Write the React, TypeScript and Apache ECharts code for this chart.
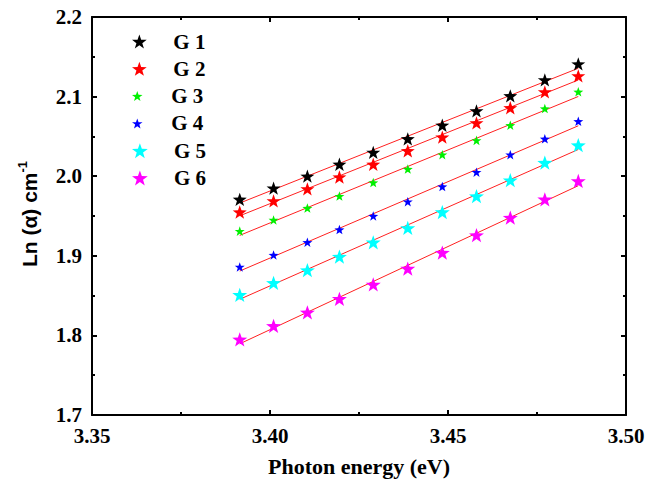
import React, { useEffect, useRef } from "react";
import * as echarts from "echarts";

const energies = [3.3915, 3.401, 3.4105, 3.4195, 3.429, 3.4387, 3.4484, 3.458, 3.4675, 3.4772, 3.4866];
const g1 = [1.971, 1.985, 2.0, 2.015, 2.03, 2.047, 2.064, 2.082, 2.101, 2.121, 2.141];
const g2 = [1.955, 1.969, 1.984, 1.999, 2.015, 2.032, 2.049, 2.067, 2.086, 2.106, 2.126];
const g3 = [1.931, 1.945, 1.96, 1.975, 1.992, 2.009, 2.027, 2.045, 2.064, 2.085, 2.106];
const g4 = [1.886, 1.901, 1.917, 1.933, 1.95, 1.968, 1.987, 2.005, 2.027, 2.047, 2.069];
const g5 = [1.851, 1.866, 1.882, 1.899, 1.917, 1.935, 1.955, 1.975, 1.995, 2.017, 2.039];
const g6 = [1.795, 1.812, 1.829, 1.846, 1.864, 1.884, 1.904, 1.926, 1.948, 1.971, 1.994];

const seriesNames = ["G 1", "G 2", "G 3", "G 4", "G 5", "G 6"];
const seriesValues = [g1, g2, g3, g4, g5, g6];
const seriesColors = ["#000000", "#ff0000", "#00f000", "#0000ff", "#00ffff", "#ff00ff"];
const starSizes = [14, 14, 10, 10, 15, 15];

const STAR =
  "path://M0,-10 L2.35,-3.24 L9.51,-3.09 L3.8,1.24 L5.88,8.09 L0,4 L-5.88,8.09 L-3.8,1.24 L-9.51,-3.09 L-2.35,-3.24 Z";

function fit(xs: number[], ys: number[]) {
  const n = xs.length;
  const mx = xs.reduce((a, b) => a + b, 0) / n;
  const my = ys.reduce((a, b) => a + b, 0) / n;
  let sxy = 0;
  let sxx = 0;
  for (let i = 0; i < n; i++) {
    sxy += (xs[i] - mx) * (ys[i] - my);
    sxx += (xs[i] - mx) * (xs[i] - mx);
  }
  const b = sxy / sxx;
  const a = my - b * mx;
  return [
    [xs[0], a + b * xs[0]],
    [xs[n - 1], a + b * xs[n - 1]],
  ];
}

const FONT = "'Liberation Serif', 'Times New Roman', serif";
const SANS = "'Liberation Sans', Arial, sans-serif";

export default function App() {
  const ref = useRef<HTMLDivElement>(null);
  useEffect(() => {
    if (!ref.current) return;
    const chart = echarts.init(ref.current, undefined, { renderer: "svg" });
    const axisCommon = {
      axisLine: { show: true, onZero: false, lineStyle: { color: "#000", width: 2 } },
      axisTick: { show: true, inside: true, length: 5, lineStyle: { color: "#000", width: 2 } },
      minorTick: { show: true, splitNumber: 2, length: 3, lineStyle: { color: "#000", width: 2 } },
      splitLine: { show: false },
      minorSplitLine: { show: false },
    };
    const lineSeries = seriesValues.map((vals, i) => ({
      name: "fit" + (i + 1),
      type: "line",
      data: fit(energies, vals),
      showSymbol: false,
      symbol: "none",
      lineStyle: { color: "#ff2020", width: 1 },
      z: 1,
      silent: true,
    }));
    const scatterSeries = seriesValues.map((vals, i) => ({
      name: seriesNames[i],
      type: "scatter",
      data: energies.map((x, j) => [x, vals[j]]),
      symbol: STAR,
      symbolSize: starSizes[i],
      symbolKeepAspect: true,
      itemStyle: { color: seriesColors[i], opacity: 1 },
      z: 2,
    }));
    const legends = seriesNames.map((name, i) => ({
      data: [{ name, icon: STAR }],
      left: 132,
      top: 31 + i * 27.3,
      orient: "vertical",
      itemWidth: 50,
      itemHeight: starSizes[i],
      symbolKeepAspect: true,
      padding: 0,
      selectedMode: false,
      textStyle: { fontFamily: FONT, fontWeight: "bold", fontSize: 21, color: "#000", padding: [0, 0, 0, 4] },
    }));
    chart.setOption({
      animation: false,
      backgroundColor: "#fff",
      grid: { left: 92, top: 17, right: 35, bottom: 66, containLabel: false },
      legend: legends,
      xAxis: [
        {
          type: "value",
          min: 3.35,
          max: 3.5,
          interval: 0.05,
          position: "bottom",
          ...axisCommon,
          axisLabel: {
            margin: 10,
            fontFamily: FONT,
            fontWeight: "bold",
            fontSize: 21,
            color: "#000",
            formatter: (v: number) => v.toFixed(2),
          },
          name: "Photon energy (eV)",
          nameLocation: "middle",
          nameGap: 40,
          nameTextStyle: { fontFamily: FONT, fontWeight: "bold", fontSize: 22, color: "#000" },
        },
        {
          type: "value",
          min: 3.35,
          max: 3.5,
          interval: 0.05,
          position: "top",
          ...axisCommon,
          axisLabel: { show: false },
        },
      ],
      yAxis: [
        {
          type: "value",
          min: 1.7,
          max: 2.2,
          interval: 0.1,
          position: "left",
          ...axisCommon,
          axisLabel: {
            margin: 10,
            fontFamily: FONT,
            fontWeight: "bold",
            fontSize: 21,
            color: "#000",
            formatter: (v: number) => v.toFixed(1),
          },
        },
        {
          type: "value",
          min: 1.7,
          max: 2.2,
          interval: 0.1,
          position: "right",
          ...axisCommon,
          axisLabel: { show: false },
        },
      ],
      graphic: [
        {
          type: "text",
          x: 29,
          y: 214,
          rotation: Math.PI / 2,
          style: {
            text: "{a|Ln (α) cm}{b|-1}",
            align: "center",
            verticalAlign: "middle",
            rich: {
              a: { fontFamily: SANS, fontWeight: "bold", fontSize: 21, fill: "#000", lineHeight: 26 },
              b: { fontFamily: SANS, fontWeight: "bold", fontSize: 13, fill: "#000", verticalAlign: "top", lineHeight: 26 },
            },
          },
        },
      ],
      series: [...lineSeries, ...scatterSeries],
    });
    return () => chart.dispose();
  }, []);
  return (
    <div
      ref={ref}
      style={{ position: "absolute", left: 0, top: 0, width: 661, height: 482, overflow: "hidden" }}
    />
  );
}
